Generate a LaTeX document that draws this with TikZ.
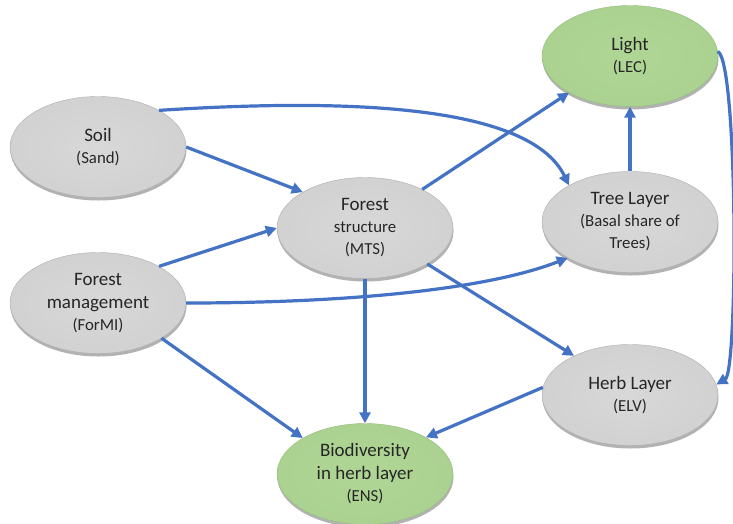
\documentclass[tikz,border=0pt]{standalone}
\usepackage{fontspec}
\setmainfont{Carlito}
\usetikzlibrary{arrows.meta,shadows,shapes.geometric}
\definecolor{arrowblue}{HTML}{4472C4}
\definecolor{grayc}{HTML}{D0D0D0}
\definecolor{graylt}{HTML}{D8D8D8}
\definecolor{grayd}{HTML}{9A9A9A}
\definecolor{greenc}{HTML}{A9D18E}
\definecolor{greenlt}{HTML}{B0D696}
\definecolor{greend}{HTML}{7EA862}
\pgfdeclareradialshading{graybevel}{\pgfpoint{0bp}{0bp}}{color(0bp)=(graylt); color(30bp)=(grayc); color(43bp)=(grayc); color(50bp)=(grayd)}
\pgfdeclareradialshading{greenbevel}{\pgfpoint{0bp}{0bp}}{color(0bp)=(greenlt); color(30bp)=(greenc); color(43bp)=(greenc); color(50bp)=(greend)}
\newcommand{\mainf}{\fontsize{19}{23}\selectfont}
\newcommand{\subf}{\fontsize{16.8}{22}\selectfont}
\begin{document}
\begin{tikzpicture}[x=1pt,y=-1pt,
  ell/.style={ellipse, minimum width=176pt, minimum height=101pt, inner sep=0pt,
    align=center, font=\subf, text=black!85,
    drop shadow={shadow xshift=0.5pt, shadow yshift=-3pt, opacity=0.3, fill=black}},
  grayell/.style={ell, shade, shading=graybevel, draw=grayd!80, line width=0.4pt},
  greenell/.style={ell, shade, shading=greenbevel, draw=greend!80, line width=0.4pt},
  arr/.style={-{Triangle[length=11pt,width=11pt]}, draw=arrowblue, line width=3.2pt}]
\useasboundingbox (0,0) rectangle (733,523);
\node[grayell] (soil) at (98,147) {{\mainf Soil}\\(Sand)};
\node[grayell] (fm) at (98,303) {{\mainf Forest}\\[1pt]{\mainf management}\\(ForMI)};
\node[grayell] (fs) at (365,228) {{\mainf Forest}\\structure\\(MTS)};
\node[greenell] (bio) at (365,474) {{\mainf Biodiversity}\\[1pt]{\mainf in herb layer}\\(ENS)};
\node[greenell] (light) at (630,56) {{\mainf Light}\\(LEC)};
\node[grayell] (tree) at (630,222) {{\mainf Tree Layer}\\(Basal share of\\Trees)};
\node[grayell] (herb) at (630,395) {{\mainf Herb Layer}\\(ELV)};
\draw[arr] (soil.0) -- (fs.150);
\draw[arr] (fm.31) -- (fs.west);
\draw[arr] (fm.-29) -- (bio.150);
\draw[arr] (fs.34) -- (light.211);
\draw[arr] (fs.-30) -- (herb.145);
\draw[arr] (fs.south) -- (bio.north);
\draw[arr] (tree.north) -- (light.south);
\draw[arr] (herb.175) -- (bio.31);
\draw[arr] (soil.31) .. controls (350,98) and (530,105) .. (tree.149);
\draw[arr] (fm.east) .. controls (330,303) and (480,292) .. (tree.210);
\draw[arr] (light.3) .. controls (738,62) and (738,372) .. (herb.7);
\end{tikzpicture}
\end{document}
